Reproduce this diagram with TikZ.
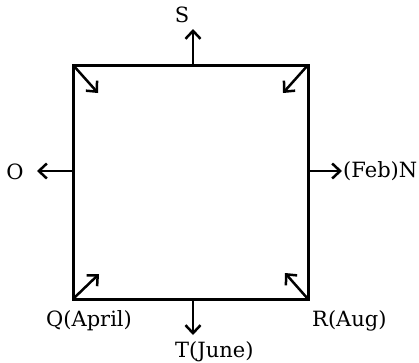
\documentclass[tikz,border=0pt]{standalone}
\usepackage{fontspec}
\setmainfont{DejaVu Serif}
\usetikzlibrary{arrows.meta}
\begin{document}
\begin{tikzpicture}[x=1pt,y=-1pt,
  edge/.style={line width=3pt,line cap=rect},
  arr/.style={line width=2.5pt,-{Straight Barb[length=8pt,width=15pt,line width=2.5pt]}},
  lbl/.style={inner sep=0pt,font=\fontsize{21}{24}\selectfont}]
\useasboundingbox (0,0) rectangle (419,362);
\coordinate (tl) at (73,65);
\coordinate (tr) at (308,65);
\coordinate (br) at (308,299);
\coordinate (bl) at (73,299);
\draw[edge] (tl) -- (tr) -- (br) -- (bl) -- cycle;
% side mid points
\coordinate (tm) at (193,65);
\coordinate (lm) at (73,171);
\coordinate (rm) at (308,171);
\coordinate (bm) at (193,299);
\coordinate (tmE) at (193,29);
\coordinate (lmE) at (37,171);
\coordinate (rmE) at (342,171);
\coordinate (bmE) at (193,335);
\draw[arr] (tm) -- (tmE);
\draw[arr] (lm) -- (lmE);
\draw[arr] (rm) -- (rmE);
\draw[arr] (bm) -- (bmE);
% corner arrows
\coordinate (tlE) at (98,93);
\coordinate (trE) at (283,93);
\coordinate (blE) at (99,274);
\coordinate (brE) at (285,273);
\draw[arr] (tl) -- (tlE);
\draw[arr] (tr) -- (trE);
\draw[arr] (bl) -- (blE);
\draw[arr] (br) -- (brE);
% labels
\node[lbl,anchor=base] (S) at (182,22) {S};
\node[lbl,anchor=base] (O) at (15,179) {O};
\node[lbl,anchor=base west] (N) at (343,177) {(Feb)N};
\node[lbl,anchor=base west] (T) at (175,357) {T(June)};
\node[lbl,anchor=base west] (Q) at (46,326) {Q(April)};
\node[lbl,anchor=base west] (R) at (312,326) {R(Aug)};
\end{tikzpicture}
\end{document}
